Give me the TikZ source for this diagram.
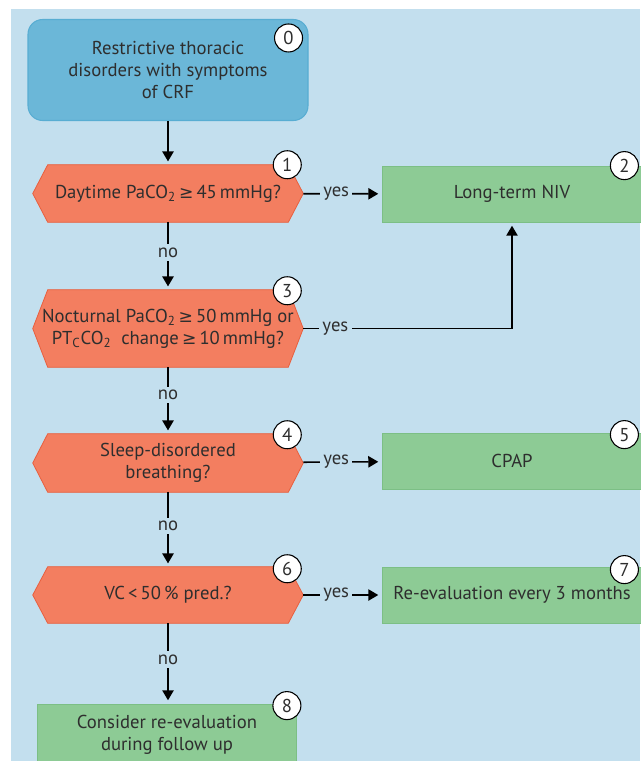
\documentclass[tikz,border=0pt]{standalone}
\usepackage{fontspec}
\setmainfont{PT Sans}
\newfontfamily\symfont[Scale=0.92]{DejaVu Sans}
\usetikzlibrary{arrows.meta}
\definecolor{backblue}{HTML}{C3DFEE}
\definecolor{bluefill}{HTML}{6BB7D8}
\definecolor{blueline}{HTML}{58ADD2}
\definecolor{redfill}{HTML}{F37E60}
\definecolor{redline}{HTML}{E85F3E}
\definecolor{greenfill}{HTML}{8DCB95}
\definecolor{greenline}{HTML}{7CBF85}
\definecolor{textgray}{HTML}{2E2E2E}
\newcommand\geqsign{{\symfont ≥}}
\pgfdeclarelayer{bg}
\pgfsetlayers{bg,main}
\begin{document}
\begin{tikzpicture}[x=0.75pt,y=-0.75pt,
  font=\fontsize{14}{16.5}\selectfont, text=textgray,
  startbox/.style={draw=blueline, fill=bluefill, rounded corners=11pt, line width=0.8pt,
    minimum width=210pt, minimum height=75.75pt, align=center},
  decision/.style={minimum width=202.5pt, inner sep=0pt, align=center},
  actbox/.style={draw=greenline, fill=greenfill, line width=0.6pt,
    minimum width=195pt, minimum height=42pt, align=center},
  num/.style={circle, draw=black, fill=white, line width=0.8pt,
    minimum size=21pt, inner sep=0pt},
  arr/.style={line width=1.2pt, -{Triangle[length=7.5pt,width=8.5pt]}, shorten >=2.5pt},
  lbl/.style={fill=backblue, inner sep=2.5pt}]
\useasboundingbox (0,0) rectangle (640,761);
\begin{pgfonlayer}{bg}
\fill[backblue] (11,9) rectangle (640,761);
\end{pgfonlayer}

% left column
\node[startbox] (n0) at (168,70) {Restrictive thoracic\\disorders with symptoms\\of CRF};
\node[decision, minimum height=42.75pt] (n1) at (168,193.5) {Daytime PaCO\textsubscript{2}\,\geqsign\,45\,mmHg?};
\node[decision, minimum height=57.75pt] (n3) at (168,328.5)
  {Nocturnal PaCO\textsubscript{2}\,\geqsign\,50\,mmHg or\\PT\textsubscript{C}CO\textsubscript{2}\ \ change\,\geqsign\,10\,mmHg?};
\node[decision, minimum height=43.5pt] (n4) at (168,463) {Sleep-disordered\\breathing?};
\node[decision, minimum height=42pt] (n6) at (168,595) {VC\,<\,50\,\% pred.?};
\node[actbox, minimum width=194.25pt, minimum height=46.5pt] (n8) at (167,735)
  {Consider re-evaluation\\during follow up};

% right column
\node[actbox] (n2) at (512,194) {Long-term NIV};
\node[actbox] (n5) at (512,461) {CPAP};
\node[actbox] (n7) at (512,595) {Re-evaluation every 3 months};

% hexagons behind the questions
\begin{pgfonlayer}{bg}
\foreach \q in {n1,n3,n4,n6}
  \draw[fill=redfill, draw=redline, line width=0.6pt]
    ([xshift=11.25pt]\q.north west) -- ([xshift=-11.25pt]\q.north east) -- (\q.east)
    -- ([xshift=-11.25pt]\q.south east) -- ([xshift=11.25pt]\q.south west) -- (\q.west) -- cycle;
\end{pgfonlayer}

% connectors
\draw[arr] (n0) -- (n1);
\draw[arr] (n1) -- node[lbl,pos=0.45]{no} (n3);
\draw[arr] (n3) -- node[lbl,pos=0.42]{no} (n4);
\draw[arr] (n4) -- node[lbl,pos=0.45]{no} (n6);
\draw[arr] (n6.south) -- node[lbl,pos=0.45]{no} (n6.south |- n8.north);
\draw[arr] (n1) -- node[lbl,pos=0.42]{yes} (n2);
\draw[arr] (n3.east) -| node[lbl,pos=0.077]{yes} (n2.south);
\draw[arr] (n4) -- node[lbl,pos=0.42]{yes} (n5);
\draw[arr] (n6) -- node[lbl,pos=0.42]{yes} (n7);

% numbers
\foreach \n/\k/\dx/\dy in {n0/0/-20/19, n1/1/-16/0, n3/3/-16/1, n4/4/-16/1, n6/6/-16/2,
    n2/2/-18/0, n5/5/-18/2, n7/7/-18/3, n8/8/-10/2}
  \node[num] (c\k) at ([shift={(\dx,\dy)}]\n.north east) {\k};
\end{tikzpicture}
\end{document}
